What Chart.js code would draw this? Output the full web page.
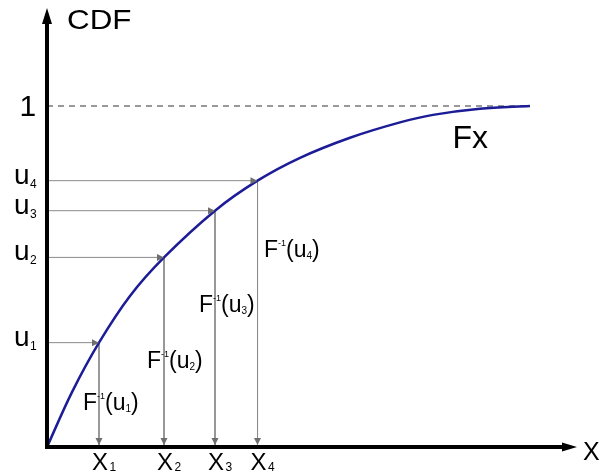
<!DOCTYPE html>
<html>
<head>
<meta charset="utf-8">
<script src="https://cdn.jsdelivr.net/npm/chart.js@4/dist/chart.umd.min.js"></script>
<style>
html,body{margin:0;padding:0;background:#fff;}
#wrap{width:608px;height:476px;position:relative;}
</style>
</head>
<body>
<div id="wrap"><canvas id="c" width="608" height="476"></canvas></div>
<script>
// ---- data ----
const curveX = [0, 0.472, 0.981, 1.566, 2.208, 3.170, 3.972, 4.774, 5.717, 6.660, 7.283, 8.170, 9.113];
const curveY = [0, 0.161, 0.306, 0.443, 0.556, 0.693, 0.781, 0.848, 0.907, 0.952, 0.974, 0.992, 1.000];
const sampleX = [0.981, 2.208, 3.170, 3.972];
const sampleU = [0.306, 0.556, 0.693, 0.781];
const sampleIndex = ['1', '2', '3', '4'];
const levelOne = 1;
const levelOneLabel = '1';
const xRange = [0, 10];
const yRange = [0, 1.2874];

const FONT = '"Liberation Sans", Arial, Helvetica, sans-serif';

function tri(ctx, tx, ty, dir, len, half) {
  ctx.beginPath();
  ctx.moveTo(tx, ty);
  if (dir === 'right') { ctx.lineTo(tx - len, ty - half); ctx.lineTo(tx - len, ty + half); }
  if (dir === 'down')  { ctx.lineTo(tx - half, ty - len); ctx.lineTo(tx + half, ty - len); }
  if (dir === 'up')    { ctx.lineTo(tx - half, ty + len); ctx.lineTo(tx + half, ty + len); }
  ctx.closePath();
  ctx.fill();
}

function run(ctx, x, y, parts) {
  let cx = x;
  parts.forEach(p => {
    ctx.font = p.size + 'px ' + FONT;
    cx += (p.dx || 0);
    ctx.fillText(p.t, cx, y + (p.dy || 0));
    cx += ctx.measureText(p.t).width;
  });
  return cx;
}

const overlay = {
  id: 'overlay',
  afterDatasetsDraw(chart) {
    const { ctx, chartArea: a, scales: { x, y } } = chart;
    const X0 = x.getPixelForValue(0), Y0 = y.getPixelForValue(0);
    ctx.save();
    // guide arrowheads
    ctx.fillStyle = '#6e6e6e';
    sampleX.forEach((sx, i) => {
      const px = x.getPixelForValue(sx), py = y.getPixelForValue(sampleU[i]);
      tri(ctx, px, py, 'right', 7, 3.5);
      tri(ctx, px, Y0 - 2, 'down', 7, 3.5);
    });
    // axes
    ctx.strokeStyle = '#000';
    ctx.lineWidth = 4;
    ctx.beginPath(); ctx.moveTo(X0, Y0 + 2); ctx.lineTo(X0, a.top + 12); ctx.stroke();
    ctx.beginPath(); ctx.moveTo(X0 - 2, Y0); ctx.lineTo(a.right - 12, Y0); ctx.stroke();
    ctx.fillStyle = '#000';
    tri(ctx, X0, a.top, 'up', 16, 5);
    tri(ctx, a.right, Y0, 'right', 15, 4.5);

    // texts
    ctx.fillStyle = '#000';
    ctx.textAlign = 'left';
    ctx.textBaseline = 'alphabetic';
    // CDF
    ctx.save();
    ctx.translate(67, 29);
    ctx.scale(1.12, 1);
    ctx.font = '28px ' + FONT;
    ctx.fillText('CDF', 0, 0);
    ctx.restore();
    // axis X
    ctx.font = '25px ' + FONT;
    ctx.fillText('X', 583, 460);
    // level one
    ctx.font = '30px ' + FONT;
    ctx.fillText(levelOneLabel, 19.5, y.getPixelForValue(levelOne) + 10);
    // Fx
    ctx.font = '32px ' + FONT;
    ctx.fillText('Fx', 452.5, 148);
    // u labels
    sampleU.forEach((u, i) => {
      const py = y.getPixelForValue(u);
      ctx.font = '28px ' + FONT;
      ctx.fillText('u', 14, py + 3);
      const w = ctx.measureText('u').width;
      ctx.font = '12px ' + FONT;
      ctx.fillText(sampleIndex[i], 14 + w + 0.5, py + 7);
    });
    // x labels
    sampleX.forEach((sx, i) => {
      const cx = x.getPixelForValue(sx) + 1;
      ctx.font = '24px ' + FONT;
      ctx.textAlign = 'center';
      ctx.fillText('X', cx, Y0 + 23);
      ctx.textAlign = 'left';
      ctx.font = '12px ' + FONT;
      ctx.fillText(sampleIndex[i], cx + 9.5, Y0 + 24);
    });
    // F^-1(u_i) labels
    const fdx = [-16, -17, -16, 6.5];
    const fbase = [410, 368, 312, 257];
    sampleX.forEach((sx, i) => {
      const lx = x.getPixelForValue(sx) + fdx[i];
      run(ctx, lx, fbase[i], [
        { t: 'F', size: 23 },
        { t: '-1', size: 9, dy: -11 },
        { t: '(u', size: 23 },
        { t: sampleIndex[i], size: 10, dy: 2 },
        { t: ')', size: 23 }
      ]);
    });
    ctx.restore();
  }
};

const curveData = curveX.map((v, i) => ({ x: v, y: curveY[i] }));
const guides = sampleX.map((sx, i) => ({
  data: [{ x: 0, y: sampleU[i] }, { x: sx, y: sampleU[i] }, { x: sx, y: 0 }],
  borderColor: '#8a8a8a',
  borderWidth: 1,
  pointRadius: 0,
  tension: 0,
  fill: false,
  order: 2
}));

new Chart(document.getElementById('c'), {
  type: 'scatter',
  data: {
    datasets: [
      {
        label: 'Fx',
        data: curveData,
        showLine: true,
        borderColor: '#1c1c96',
        borderWidth: 2.5,
        pointRadius: 0,
        tension: 0.35,
        fill: false,
        order: 0
      },
      {
        label: 'one',
        data: [{ x: 0, y: levelOne }, { x: curveX[curveX.length - 1], y: levelOne }],
        showLine: true,
        borderColor: '#333',
        borderWidth: 1,
        borderDash: [6, 5],
        pointRadius: 0,
        fill: false,
        order: 1
      },
      ...guides.map(g => Object.assign({ showLine: true }, g))
    ]
  },
  options: {
    responsive: false,
    animation: false,
    layout: { padding: { left: 47, right: 31, top: 8, bottom: 29 } },
    plugins: { legend: { display: false }, tooltip: { enabled: false } },
    scales: {
      x: { type: 'linear', min: xRange[0], max: xRange[1], display: false },
      y: { type: 'linear', min: yRange[0], max: yRange[1], display: false }
    }
  },
  plugins: [overlay]
});
</script>
</body>
</html>
